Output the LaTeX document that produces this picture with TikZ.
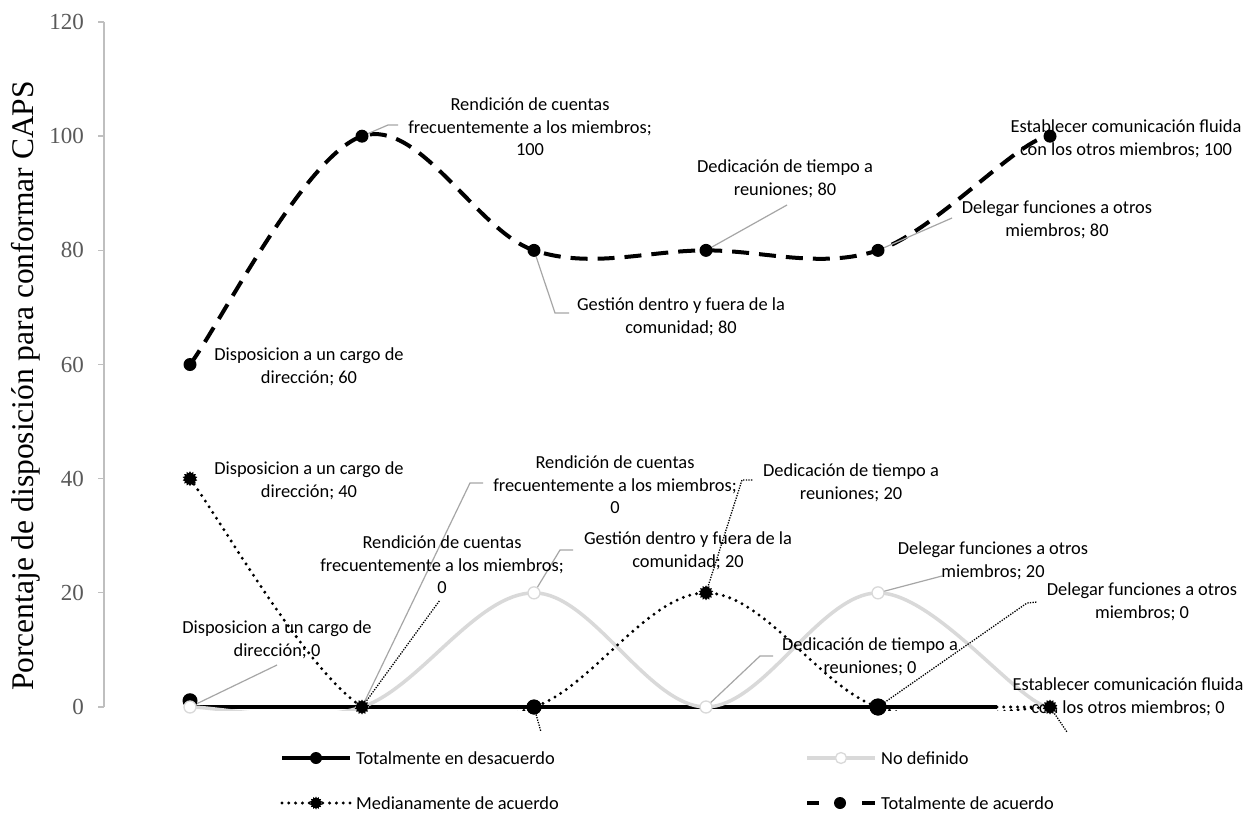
\documentclass[tikz,border=0pt]{standalone}
\usepackage{fontspec}
\setmainfont{Carlito}
\newfontfamily\tnr{Liberation Serif}
\usetikzlibrary{shapes.geometric}
\definecolor{axisgray}{HTML}{BFBFBF}
\definecolor{tickgray}{HTML}{595959}
\definecolor{ndgray}{HTML}{D9D9D9}
\definecolor{leadgray}{HTML}{A6A6A6}
\newcommand{\labsize}{\fontsize{18.4}{22.6}\selectfont}
\begin{document}
\begin{tikzpicture}[x=1pt,y=-1pt,
  lab/.style={align=center,font=\labsize,inner sep=0pt,text=black},
  legtext/.style={anchor=west,font=\labsize,inner sep=0pt,text=black},
  ticklab/.style={anchor=east,font=\tnr\fontsize{23}{26}\selectfont,text=tickgray,inner sep=0pt},
  dline/.style={line width=3.5pt,black},
  nline/.style={line width=3.5pt,ndgray},
  mline/.style={line width=3.3pt,black,line cap=round,dash pattern=on 0pt off 6.8pt},
  tline/.style={line width=4pt,black,dash pattern=on 17pt off 10pt},
  dmark/.style={circle,fill=black,inner sep=0pt,minimum size=15pt},
  nmark/.style={circle,draw=ndgray,fill=white,line width=1.3pt,inner sep=0pt,minimum size=12pt},
  mmark/.style={star,star points=14,star point ratio=1.35,fill=black,inner sep=0pt,minimum size=15pt},
  tmark/.style={circle,fill=black,inner sep=0pt,minimum size=13pt},
  leadg/.style={draw=leadgray,line width=1.2pt},
  leadm/.style={draw=black,line width=1.3pt,dash pattern=on 1.3pt off 1.3pt}]
\useasboundingbox (0,0) rectangle (1250,818);
\fill[white] (0,0) rectangle (1250,818);

% axis
\draw[axisgray,line width=1.3pt] (104,22) -- (104,707);
\foreach \k/\v in {0/0,1/20,2/40,3/60,4/80,5/100,6/120}{
  \draw[axisgray,line width=1.3pt] (98,{707-114.17*\k}) -- (104,{707-114.17*\k});
  \node[ticklab] (tick\k) at (84,{707-114.17*\k}) {\v};
}
\node[rotate=90,anchor=base,font=\tnr\fontsize{31.5}{36}\selectfont,text=black,inner sep=0pt] (title) at (33,386) {Porcentaje de disposición para conformar CAPS};

% data
\begin{scope}[shift={(190,707)},x=172pt,y=5.708pt]
  \foreach \i/\v in {0/60,1/100,2/80,3/80,4/80,5/100}{\coordinate (T\i) at (\i,\v);}
  \foreach \i/\v in {0/40,1/0,2/0,3/20,4/0,5/0}{\coordinate (M\i) at (\i,\v);}
  \foreach \i/\v in {0/0,1/0,2/20,3/0,4/20,5/0}{\coordinate (N\i) at (\i,\v);}
  \foreach \i in {0,...,5}{\coordinate (D\i) at (\i,0);}
  \coordinate (D0b) at (0,1.1);
  \coordinate (Dcut) at (4.692,0);
  \coordinate (Dend) at (4.895,0);
  \begin{scope}
    \clip (-0.6,-0.55) rectangle (5.6,121);
    \draw[dline] (D0) -- (Dcut);
    \draw[nline] (N0) .. controls (0.1667,0) and (0.6667,-3.333) .. (N1)
      .. controls (1.3333,3.333) and (1.6667,20) .. (N2)
      .. controls (2.3333,20) and (2.6667,0) .. (N3)
      .. controls (3.3333,0) and (3.6667,20) .. (N4)
      .. controls (4.3333,20) and (4.8333,0) .. (N5);
    \draw[mline] (M0) .. controls (0.1667,33.33) and (0.6667,6.667) .. (M1)
      .. controls (1.3333,-6.667) and (1.6667,-3.333) .. (M2)
      .. controls (2.3333,3.333) and (2.6667,20) .. (M3)
      .. controls (3.3333,20) and (3.6667,3.333) .. (M4)
      .. controls (4.3333,-3.333) and (4.8333,0) .. (M5);
    \draw[mline] (Dcut) -- (Dend);
    \draw[tline] (T0) .. controls (0.1667,66.67) and (0.6667,96.67) .. (T1)
      .. controls (1.3333,103.33) and (1.6667,83.33) .. (T2)
      .. controls (2.3333,76.67) and (2.6667,80) .. (T3)
      .. controls (3.3333,80) and (3.6667,76.67) .. (T4)
      .. controls (4.3333,83.33) and (4.8333,100) .. (T5);
  \end{scope}
\end{scope}

% leader end points
\coordinate (tl1a) at (388,125); \coordinate (tl1b) at (398,125);
\coordinate (tl2a) at (555,313); \coordinate (tl2b) at (569,313);
\coordinate (tl3a) at (787,205);
\coordinate (tl4a) at (952,218);
\coordinate (ml1a) at (440,600);
\coordinate (ml2a) at (541,732);
\coordinate (ml3a) at (742,480); \coordinate (ml3b) at (753,480);
\coordinate (ml4a) at (1027,603); \coordinate (ml4b) at (1037,602);
\coordinate (ml5a) at (1067,732);
\coordinate (nl0a) at (277,665);
\coordinate (nl1a) at (470,483); \coordinate (nl1b) at (483,483);
\coordinate (nl2a) at (560,550); \coordinate (nl2b) at (573,550);
\coordinate (nl3a) at (760,656); \coordinate (nl3b) at (773,656);
\coordinate (nl4a) at (942,576);

% leaders
\draw[leadg] (T1) -- (tl1a) -- (tl1b);
\draw[leadg] (T2) -- (tl2a) -- (tl2b);
\draw[leadg] (T3) -- (tl3a);
\draw[leadg] (T4) -- (tl4a);
\draw[leadm] (M1) -- (ml1a);
\draw[leadm] (M2) -- (ml2a);
\draw[leadm] (M3) -- (ml3a) -- (ml3b);
\draw[leadm] (M4) -- (ml4a) -- (ml4b);
\draw[leadm] (M5) -- (ml5a);
\draw[leadg] (N0) -- (nl0a);
\draw[leadg] (N1) -- (nl1a) -- (nl1b);
\draw[leadg] (N2) -- (nl2a) -- (nl2b);
\draw[leadg] (N3) -- (nl3a) -- (nl3b);
\draw[leadg] (N4) -- (nl4a);

% labels
\node[lab] (tlab0) at (309,367) {Disposicion a un cargo de\\dirección; 60};
\node[lab] (tlab1) at (530,127) {Rendición de cuentas\\frecuentemente a los miembros;\\100};
\node[lab] (tlab2) at (681,317) {Gestión dentro y fuera de la\\comunidad; 80};
\node[lab] (tlab3) at (785,179) {Dedicación de tiempo a\\reuniones; 80};
\node[lab] (tlab4) at (1057,220) {Delegar funciones a otros\\miembros; 80};
\node[lab] (tlab5) at (1126,139) {Establecer comunicación fluida\\con los otros miembros; 100};
\node[lab] (mlab0) at (309,481) {Disposicion a un cargo de\\dirección; 40};
\node[lab] (mlab1) at (442,565) {Rendición de cuentas\\frecuentemente a los miembros;\\0};
\node[lab] (mlab3) at (851,483) {Dedicación de tiempo a\\reuniones; 20};
\node[lab] (mlab4) at (1142,602) {Delegar funciones a otros\\miembros; 0};
\node[lab] (nlab0) at (277,640) {Disposicion a un cargo de\\dirección; 0};
\node[lab] (nlab1) at (615,485) {Rendición de cuentas\\frecuentemente a los miembros;\\0};
\node[lab] (nlab2) at (688,551) {Gestión dentro y fuera de la\\comunidad; 20};
\node[lab] (nlab3) at (870,657) {Dedicación de tiempo a\\reuniones; 0};
\node[lab] (nlab4) at (993,561) {Delegar funciones a otros\\miembros; 20};
\node[lab] (nlab5) at (1128,697) {Establecer comunicación fluida\\con los otros miembros; 0};

% markers
\node[dmark] (dm0) at (D0b) {};
\node[dmark] (dm2) at (D2) {};
\node[dmark,minimum size=17pt] (dm4) at (D4) {};
\foreach \i in {0,...,5}{\node[nmark] (nm\i) at (N\i) {};}
\node[mmark] (mm0) at (M0) {};
\node[mmark] (mm1) at (M1) {};
\node[mmark] (mm3) at (M3) {};
\node[mmark] (mm5) at (M5) {};
\node[dmark] (dm2b) at (D2) {};
\node[dmark,minimum size=17pt] (dm4b) at (D4) {};
\foreach \i in {0,...,5}{\node[tmark] (tm\i) at (T\i) {};}

% legend
\coordinate (lg1a) at (282,758); \coordinate (lg1b) at (350,758);
\draw[dline] (lg1a) -- (lg1b);
\node[dmark,minimum size=12pt] (lgm1) at (316,758) {};
\node[legtext] (lgt1) at (356,758) {Totalmente en desacuerdo};
\coordinate (lg2a) at (807,758); \coordinate (lg2b) at (875,758);
\draw[nline] (lg2a) -- (lg2b);
\node[nmark,minimum size=11pt] (lgm2) at (841,758) {};
\node[legtext] (lgt2) at (881,758) {No definido};
\coordinate (lg3a) at (282,803); \coordinate (lg3b) at (350,803);
\draw[mline] (lg3a) -- (lg3b);
\node[mmark,minimum size=13pt] (lgm3) at (316,803) {};
\node[legtext] (lgt3) at (356,803) {Medianamente de acuerdo};
\coordinate (lg4a) at (807,803); \coordinate (lg4b) at (819,803);
\coordinate (lg4c) at (862,803); \coordinate (lg4d) at (875,803);
\draw[line width=4pt] (lg4a) -- (lg4b);
\draw[line width=4pt] (lg4c) -- (lg4d);
\node[tmark,minimum size=12pt] (lgm4) at (840,803) {};
\node[legtext] (lgt4) at (881,803) {Totalmente de acuerdo};
\end{tikzpicture}
\end{document}
